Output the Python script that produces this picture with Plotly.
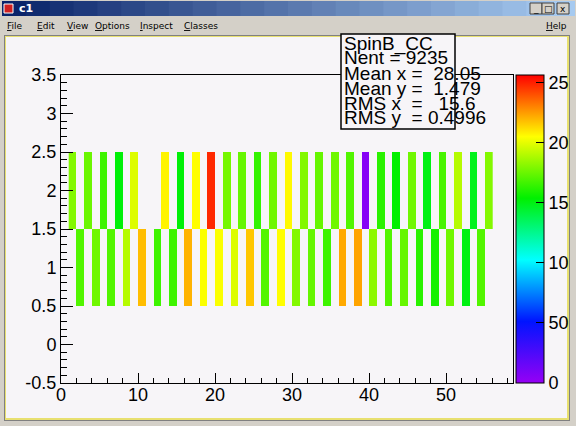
import plotly.graph_objects as go

# 2D histogram "SpinB_CC": top row (y bin 1.5-2.5) filled at odd x bins,
# bottom row (y bin 0.5-1.5) at even x bins
top_x = list(range(1, 56, 2))
top_counts = [180, 175, 166, 152, 198, None, 207, 152, 205, 248,
              177, 174, 164, 176, 206, 180, 174, 176, 170, 5,
              162, 154, 176, 150, 168, 190, 148, 180]
bottom_x = list(range(2, 55, 2))
bottom_counts = [170, 176, 170, 190, 218, 166, 166, 220, 204, 204,
                 198, 216, 170, 205, 180, 174, 166, 222, 223, 182,
                 170, 174, 162, 158, 176, 150, 170]

y_edges = [0.5, 1.5, 2.5]
x_edges = list(range(1, 57))

y_ticks = [-0.5, 0, 0.5, 1, 1.5, 2, 2.5, 3, 3.5]
y_ticktext = ["-0.5", "0", "0.5", "1", "1.5", "2", "2.5", "3", "3.5"]
x_ticks = [0, 10, 20, 30, 40, 50]

stats_lines = ["SpinB_CC", "Nent = 9235", "Mean x =  28.05",
               "Mean y =  1.479", "RMS x  =   15.6", "RMS y  = 0.4996"]

z_ticks = [0, 50, 100, 150, 200, 250]
z_ticktext = ["0", "50", "10", "15", "20", "25"]

menu_items = ["<u>F</u>ile", "<u>E</u>dit", "<u>V</u>iew", "<u>O</u>ptions",
              "<u>I</u>nspect", "<u>C</u>lasses"]
menu_pos = [5, 35, 65, 93, 138, 182]

W, H = 576, 426
def px(x):
    return x / W
def py(y):
    return 1 - y / H

# build the z grid from the two rows
bottom_row = [None] * (len(x_edges) - 1)
top_row = [None] * (len(x_edges) - 1)
for x, c in zip(bottom_x, bottom_counts):
    bottom_row[x - 1] = c
for x, c in zip(top_x, top_counts):
    top_row[x - 1] = c

root_palette = [
    [0.0, "rgb(150,0,245)"],
    [0.2, "rgb(0,20,255)"],
    [0.4, "rgb(0,255,255)"],
    [0.6, "rgb(0,240,0)"],
    [0.8, "rgb(255,255,0)"],
    [1.0, "rgb(255,0,0)"],
]

canvas_bg = "#f7f5f8"

fig = go.Figure()
fig.add_trace(go.Heatmap(
    x=x_edges, y=y_edges, z=[bottom_row, top_row],
    zmin=0, zmax=256, colorscale=root_palette,
    colorbar=dict(
        x=px(516), xanchor="left", xpad=0, ypad=0,
        y=py(383), yanchor="bottom", len=(383 - 75) / H, lenmode="fraction",
        thickness=28, thicknessmode="pixels",
        outlinewidth=1, outlinecolor="black",
        tickvals=z_ticks, ticktext=z_ticktext,
        ticks="inside", ticklen=8, tickcolor="black",
        tickfont=dict(family="Liberation Sans", size=18, color="black"),
    ),
    hoverongaps=False,
))

shapes = []
# title bar gradient
steps = 24
c0, c1 = (10, 36, 106), (166, 202, 240)
for i in range(steps):
    f = i / (steps - 1)
    col = "rgb(%d,%d,%d)" % tuple(int(a + (b - a) * f) for a, b in zip(c0, c1))
    shapes.append(dict(type="rect", xref="paper", yref="paper", layer="below",
                       x0=px(2 + i * 572 / steps), x1=px(2 + (i + 1) * 572 / steps + 1),
                       y0=py(16), y1=py(1), fillcolor=col, line_width=0))
# window buttons
for bx in (530, 542, 557):
    shapes.append(dict(type="rect", xref="paper", yref="paper", layer="below",
                       x0=px(bx), x1=px(bx + 12), y0=py(14), y1=py(3),
                       fillcolor="#d4d0c8", line=dict(color="#404040", width=1)))
# icon
shapes.append(dict(type="rect", xref="paper", yref="paper", layer="below",
                   x0=px(4), x1=px(13), y0=py(13), y1=py(4),
                   fillcolor="#d02020", line=dict(color="white", width=1)))
# canvas with border
shapes.append(dict(type="rect", xref="paper", yref="paper", layer="below",
                   x0=px(4), x1=px(570), y0=py(421), y1=py(35),
                   fillcolor="#808080", line_width=0))
shapes.append(dict(type="rect", xref="paper", yref="paper", layer="below",
                   x0=px(5), x1=px(569), y0=py(420), y1=py(36),
                   fillcolor="#e8e070", line_width=0))
shapes.append(dict(type="rect", xref="paper", yref="paper", layer="below",
                   x0=px(6), x1=px(567), y0=py(418), y1=py(37),
                   fillcolor=canvas_bg, line_width=0))
# stats box
shapes.append(dict(type="rect", xref="paper", yref="paper", layer="above",
                   x0=px(341), x1=px(455), y0=py(129), y1=py(34),
                   fillcolor=canvas_bg, line=dict(color="black", width=1.5)))

annotations = []
annotations.append(dict(text="<b>c1</b>", x=px(17), y=py(8), xref="paper", yref="paper",
                        xanchor="left", yanchor="middle", showarrow=False,
                        font=dict(family="DejaVu Sans", size=11, color="white")))
for t, bx in zip(["_", "□", "x"], (530, 542, 557)):
    annotations.append(dict(text=t, x=px(bx + 6), y=py(8.5), xref="paper", yref="paper",
                            xanchor="center", yanchor="middle", showarrow=False,
                            font=dict(family="DejaVu Sans", size=9, color="black")))
for t, mx in zip(menu_items, menu_pos):
    annotations.append(dict(text=t, x=px(mx), y=py(26), xref="paper", yref="paper",
                            xanchor="left", yanchor="middle", showarrow=False,
                            font=dict(family="DejaVu Sans", size=9, color="black")))
annotations.append(dict(text="<u>H</u>elp", x=px(569), y=py(26), xref="paper", yref="paper",
                        xanchor="right", yanchor="middle", showarrow=False,
                        font=dict(family="DejaVu Sans", size=9, color="black")))
stat_y = [43, 57, 72, 87, 102, 116]
for t, sy in zip(stats_lines, stat_y):
    annotations.append(dict(text=t.replace(" ", "&nbsp;"), x=px(342), y=py(sy + 1),
                            xref="paper", yref="paper",
                            xanchor="left", yanchor="middle", showarrow=False,
                            font=dict(family="Liberation Sans", size=19, color="black")))

axis_font = dict(family="Liberation Sans", size=18, color="black")
fig.update_layout(
    width=W, height=H,
    margin=dict(l=0, r=0, t=0, b=0, autoexpand=False),
    paper_bgcolor="#d4d0c8",
    plot_bgcolor=canvas_bg,
    shapes=shapes,
    annotations=annotations,
    showlegend=False,
    xaxis=dict(
        domain=[px(61), px(513)], range=[0, 58.7], automargin=False,
        tickvals=x_ticks, ticks="inside", ticklen=10, ticklabelstandoff=-5,
        tickcolor="black", tickfont=axis_font,
        minor=dict(dtick=2, ticks="inside", ticklen=5, tickcolor="black"),
        showgrid=False, zeroline=False, showline=True, linecolor="black",
        linewidth=1, mirror=True,
    ),
    yaxis=dict(
        domain=[py(383), py(75)], range=[-0.5, 3.5], automargin=False,
        tickvals=y_ticks, ticktext=y_ticktext, ticks="inside", ticklen=12,
        tickcolor="black", tickfont=axis_font,
        minor=dict(dtick=0.1, tick0=0, ticks="inside", ticklen=6, tickcolor="black"),
        showgrid=False, zeroline=False, showline=True, linecolor="black",
        linewidth=1, mirror=True,
    ),
)

# page body margin would shift the canvas by 8px
fig.write_html("out.html", config={"displayModeBar": False},
               post_script="document.body.style.margin='0';")
